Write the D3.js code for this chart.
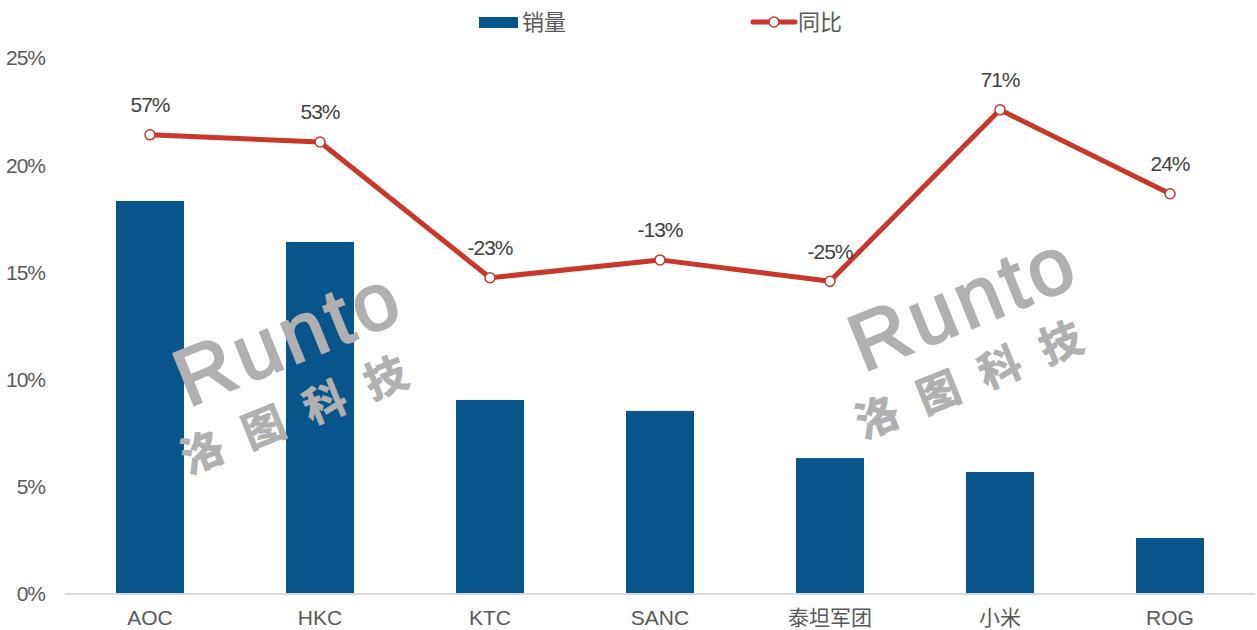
<!DOCTYPE html>
<html>
<head>
<meta charset="utf-8">
<script src="https://cdnjs.cloudflare.com/ajax/libs/d3/7.8.5/d3.min.js"></script>
<style>
  body { margin: 0; background: #fff; }
  text { font-family: "Liberation Sans", Arial, "Noto Sans CJK SC", sans-serif; }
</style>
</head>
<body>
<div id="chart"></div>
<script>
// brands, sales share and year-on-year change
var brands = ["AOC", "HKC", "KTC", "SANC", "泰坦军团", "小米", "ROG"];
var share = [0.1833, 0.1642, 0.0905, 0.0854, 0.0634, 0.0569, 0.0261];
var yoy = [0.57, 0.53, -0.23, -0.13, -0.25, 0.71, 0.24];
var yTicks = [0, 0.05, 0.10, 0.15, 0.20, 0.25];
var seriesNames = ["销量", "同比"];

var W = 1257, H = 630;
var margin = { left: 65, right: 2, top: 58, bottom: 36 };
var barColor = "#07558A", lineColor = "#C8372A", textColor = "#595959";

var svg = d3.select("#chart").append("svg")
    .attr("width", W)
    .attr("height", H);

var x = d3.scaleBand()
    .domain(brands)
    .range([margin.left, W - margin.right])
    .paddingInner(0.6)
    .paddingOuter(0.3);

var y = d3.scaleLinear().domain([0, 0.25]).range([H - margin.bottom, margin.top]);
// hidden secondary axis for the YoY line
var y2 = d3.scaleLinear().domain([-2, 1]).range([H - margin.bottom, margin.top]);

// y tick labels only, no axis line
svg.append("g").selectAll("text")
    .data(yTicks)
    .join("text")
    .attr("x", 45)
    .attr("y", function(d) { return y(d); })
    .attr("dy", "0.35em")
    .attr("text-anchor", "end")
    .attr("fill", textColor)
    .style("font-size", "21px")
    .style("letter-spacing", "-1px")
    .text(function(d) { return Math.round(d * 100) + "%"; });

// bars
svg.append("g").selectAll("rect")
    .data(brands)
    .join("rect")
    .attr("x", function(d) { return x(d); })
    .attr("y", function(d, i) { return y(share[i]); })
    .attr("width", x.bandwidth())
    .attr("height", function(d, i) { return y(0) - y(share[i]); })
    .attr("fill", barColor);

// baseline
svg.append("line")
    .attr("x1", margin.left)
    .attr("x2", W - margin.right)
    .attr("y1", y(0))
    .attr("y2", y(0))
    .attr("stroke", "#d9d9d9")
    .attr("stroke-width", 2);

// x labels
svg.append("g").selectAll("text")
    .data(brands)
    .join("text")
    .attr("x", function(d) { return x(d) + x.bandwidth() / 2; })
    .attr("y", 625)
    .attr("text-anchor", "middle")
    .attr("fill", textColor)
    .style("font-size", "21px")
    .text(function(d) { return d; });

// watermarks
function watermark(cx, cy) {
    var g = svg.append("g")
        .attr("transform", "translate(" + cx + "," + cy + ") rotate(-22)")
        .attr("fill", "#b0b0b0")
        .attr("stroke", "#b0b0b0");
    g.append("text")
        .attr("x", -4)
        .attr("y", 28)
        .attr("text-anchor", "middle")
        .attr("stroke-width", 2.5)
        .style("font-size", "80px")
        .style("letter-spacing", "5px")
        .text("Runto");
    g.append("text")
        .attr("x", -16)
        .attr("y", 90)
        .attr("text-anchor", "middle")
        .attr("stroke-width", 1)
        .style("font-size", "42px")
        .style("font-weight", "bold")
        .style("letter-spacing", "24px")
        .text("洛图科技");
}
watermark(292, 335);
watermark(967, 300);

// YoY line
var line = d3.line()
    .x(function(d, i) { return x(brands[i]) + x.bandwidth() / 2; })
    .y(function(d) { return y2(d); });

svg.append("path")
    .datum(yoy)
    .attr("d", line)
    .attr("fill", "none")
    .attr("stroke", lineColor)
    .attr("stroke-width", 5)
    .attr("stroke-linejoin", "round");

svg.append("g").selectAll("circle")
    .data(yoy)
    .join("circle")
    .attr("cx", function(d, i) { return x(brands[i]) + x.bandwidth() / 2; })
    .attr("cy", function(d) { return y2(d); })
    .attr("r", 5)
    .attr("fill", "#fff")
    .attr("stroke", lineColor)
    .attr("stroke-width", 1.5);

svg.append("g").selectAll("text")
    .data(yoy)
    .join("text")
    .attr("x", function(d, i) { return x(brands[i]) + x.bandwidth() / 2; })
    .attr("y", function(d) { return y2(d) - 30; })
    .attr("dy", "0.35em")
    .attr("text-anchor", "middle")
    .attr("fill", "#404040")
    .style("font-size", "21px")
    .style("letter-spacing", "-1px")
    .text(function(d) { return Math.round(d * 100) + "%"; });

// legend
var lg = svg.append("g");
lg.append("rect")
    .attr("x", 479).attr("y", 17)
    .attr("width", 39).attr("height", 11)
    .attr("fill", barColor);
lg.append("text")
    .attr("x", 522).attr("y", 22)
    .attr("dy", "0.35em")
    .attr("fill", textColor)
    .style("font-size", "22px")
    .text(seriesNames[0]);
lg.append("line")
    .attr("x1", 753).attr("x2", 795)
    .attr("y1", 22).attr("y2", 22)
    .attr("stroke", lineColor)
    .attr("stroke-width", 5)
    .attr("stroke-linecap", "round");
lg.append("circle")
    .attr("cx", 774).attr("cy", 22).attr("r", 5)
    .attr("fill", "#fff")
    .attr("stroke", lineColor)
    .attr("stroke-width", 1.5);
lg.append("text")
    .attr("x", 798).attr("y", 22)
    .attr("dy", "0.35em")
    .attr("fill", textColor)
    .style("font-size", "22px")
    .text(seriesNames[1]);
</script>
</body>
</html>
